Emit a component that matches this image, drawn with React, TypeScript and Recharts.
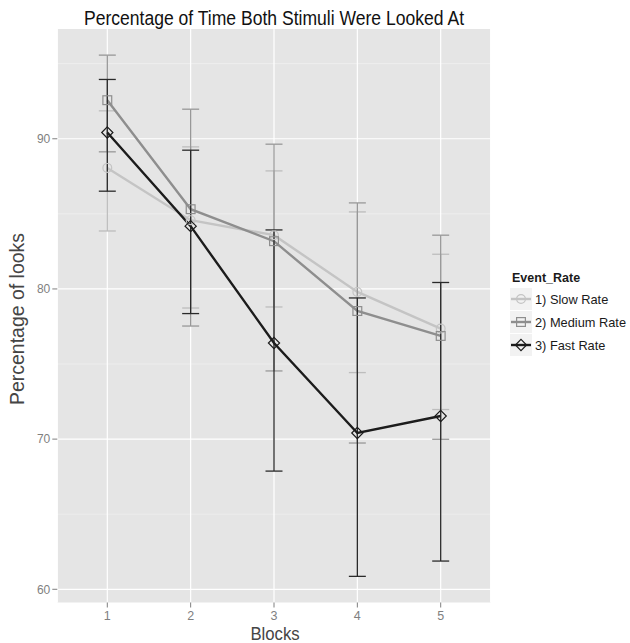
import {
  ComposedChart,
  Line,
  ErrorBar,
  XAxis,
  YAxis,
  CartesianGrid,
  Legend,
} from "recharts";

const blocks = [1, 2, 3, 4, 5];

const slowMean = [88.06, 84.58, 83.58, 79.8, 77.36];
const slowLow = [83.86, 78.73, 78.8, 74.43, 71.97];
const slowHigh = [91.86, 89.46, 87.86, 85.13, 82.31];

const mediumMean = [92.57, 85.31, 83.18, 78.53, 76.87];
const mediumLow = [89.13, 77.53, 74.54, 69.74, 69.99];
const mediumHigh = [95.57, 91.97, 89.64, 85.73, 83.58];

const fastMean = [90.42, 84.18, 76.4, 70.41, 71.54];
const fastLow = [86.51, 78.36, 67.87, 60.86, 61.88];
const fastHigh = [93.95, 89.24, 83.93, 79.4, 80.43];

const yTicks = [60, 70, 80, 90];
const yMinor = [65, 75, 85, 95];

const FONT = '"Liberation Sans", Arial, Helvetica, sans-serif';

const series = [
  { key: "slow", name: "1) Slow Rate", color: "#c4c4c4", barColor: "#bdbdbd", shape: "circle" },
  { key: "medium", name: "2) Medium Rate", color: "#8e8e8e", barColor: "#989898", shape: "square" },
  { key: "fast", name: "3) Fast Rate", color: "#1c1c1c", barColor: "#2a2a2a", shape: "diamond" },
];

const data = blocks.map((b, i) => ({
  block: b,
  slow: slowMean[i],
  slowErr: [slowMean[i] - slowLow[i], slowHigh[i] - slowMean[i]],
  medium: mediumMean[i],
  mediumErr: [mediumMean[i] - mediumLow[i], mediumHigh[i] - mediumMean[i]],
  fast: fastMean[i],
  fastErr: [fastMean[i] - fastLow[i], fastHigh[i] - fastMean[i]],
}));

function Marker({ shape, cx, cy, color }: { shape: string; cx: number; cy: number; color: string }) {
  if (shape === "circle") {
    return <circle cx={cx} cy={cy} r={4.4} fill="none" stroke={color} strokeWidth={1.2} />;
  }
  if (shape === "square") {
    return <rect x={cx - 4.4} y={cy - 4.4} width={8.8} height={8.8} fill="none" stroke={color} strokeWidth={1.2} />;
  }
  return (
    <polygon
      points={`${cx},${cy - 5.6} ${cx + 5.6},${cy} ${cx},${cy + 5.6} ${cx - 5.6},${cy}`}
      fill="none"
      stroke={color}
      strokeWidth={1.2}
    />
  );
}

function renderLegend() {
  return (
    <div style={{ fontFamily: FONT, color: "#1a1a1a" }}>
      <div style={{ fontWeight: "bold", fontSize: 12.5, height: 20, lineHeight: "20px", paddingLeft: 2 }}>
        Event_Rate
      </div>
      {series.map((s) => (
        <div key={s.key} style={{ display: "flex", alignItems: "center", height: 22, marginBottom: 1 }}>
          <svg width={22} height={22}>
            <rect x={0} y={0} width={22} height={22} fill="#f2f2f2" />
            <line x1={1} y1={11} x2={21} y2={11} stroke={s.color} strokeWidth={2.4} />
            <Marker shape={s.shape} cx={11} cy={11} color={s.color} />
          </svg>
          <span style={{ fontSize: 12.8, marginLeft: 3 }}>{s.name}</span>
        </div>
      ))}
    </div>
  );
}

export default function App() {
  return (
    <div style={{ position: "absolute", left: 0, top: 0, width: 630, height: 643, background: "#fff" }}>
      <ComposedChart
        width={630}
        height={643}
        data={data}
        margin={{ top: 29, right: 139.3, bottom: 0, left: 0 }}
      >
        <CartesianGrid
          fill="#e5e5e5"
          vertical={false}
          horizontalValues={yMinor}
          stroke="#f2f2f2"
          strokeWidth={0.7}
        />
        <CartesianGrid horizontalValues={yTicks} stroke="#ffffff" strokeWidth={1.2} />
        <XAxis
          type="number"
          dataKey="block"
          domain={[0.4, 5.6]}
          ticks={blocks}
          allowDataOverflow
          height={40.5}
          axisLine={false}
          tickSize={5}
          tickMargin={4}
          tickLine={{ stroke: "#7f7f7f" }}
          tick={{ fill: "#7f7f7f", fontSize: 12.5, fontFamily: FONT }}
        />
        <YAxis
          type="number"
          domain={[59.12, 97.31]}
          ticks={yTicks}
          allowDataOverflow
          width={57.3}
          axisLine={false}
          tickSize={5}
          tickMargin={2}
          tickLine={{ stroke: "#7f7f7f" }}
          tick={{ fill: "#7f7f7f", fontSize: 12, fontFamily: FONT }}
        />
        {series.map((s) => (
          <Line
            key={s.key}
            type="linear"
            dataKey={s.key}
            name={s.name}
            stroke={s.color}
            strokeWidth={2.4}
            isAnimationActive={false}
            dot={(p: any) => (
              <Marker key={`${s.key}-${p.index}`} shape={s.shape} cx={p.cx} cy={p.cy} color={s.color} />
            )}
            activeDot={false}
          >
            <ErrorBar
              dataKey={`${s.key}Err`}
              direction="y"
              width={8.5}
              stroke={s.barColor}
              strokeWidth={1.3}
              isAnimationActive={false}
            />
          </Line>
        ))}
        <Legend
          layout="horizontal"
          verticalAlign="middle"
          align="center"
          wrapperStyle={{ left: 510, top: 268, width: 120, height: 92 }}
          content={renderLegend}
        />
        <text
          transform="translate(274,25) scale(0.9,1)"
          textAnchor="middle"
          fontFamily={FONT}
          fontSize={19.5}
          fill="#111"
        >
          Percentage of Time Both Stimuli Were Looked At
        </text>
        <text
          transform="translate(24.3,319) rotate(-90) scale(0.95,1)"
          textAnchor="middle"
          fontFamily={FONT}
          fontSize={20.5}
          fill="#454545"
        >
          Percentage of looks
        </text>
        <text
          transform="translate(275,640) scale(0.88,1)"
          textAnchor="middle"
          fontFamily={FONT}
          fontSize={19}
          fill="#454545"
        >
          Blocks
        </text>
      </ComposedChart>
    </div>
  );
}
